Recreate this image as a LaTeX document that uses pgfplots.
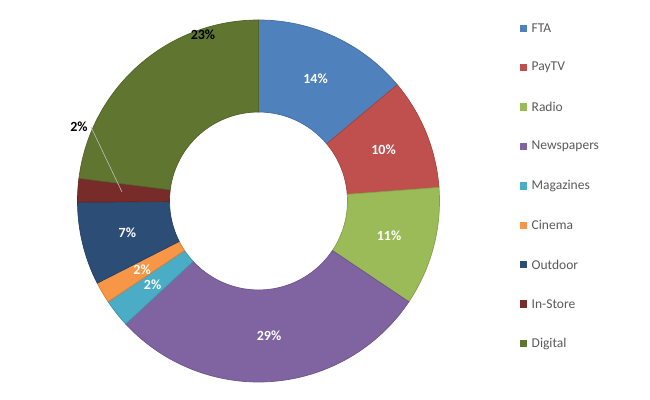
\documentclass[border=0pt]{standalone}
\usepackage{pgfplots}
\pgfplotsset{compat=1.18}
\usepackage{pgfplotstable}
\usepackage{fontspec}
\setmainfont{Carlito}
\usetikzlibrary{calc}
\definecolor{cFTA}{HTML}{4F81BD}
\definecolor{cPay}{HTML}{C0504D}
\definecolor{cRad}{HTML}{9BBB59}
\definecolor{cNews}{HTML}{8064A2}
\definecolor{cMag}{HTML}{4BACC6}
\definecolor{cCin}{HTML}{F79646}
\definecolor{cOut}{HTML}{2C4D75}
\definecolor{cIn}{HTML}{772C2A}
\definecolor{cDig}{HTML}{5F7530}
\definecolor{legtext}{HTML}{595959}
\pgfplotstableread[col sep=comma]{
name,value,lab,color,inside
FTA,13.9,14,cFTA,1
PayTV,9.9,10,cPay,1
Radio,10.6,11,cRad,1
Newspapers,28.7,29,cNews,1
Magazines,2.5,2,cMag,1
Cinema,1.9,2,cCin,1
Outdoor,7.4,7,cOut,1
In-Store,2.1,2,cIn,0
Digital,23.0,23,cDig,0
}\data
\tikzset{
  lbl/.style={font=\fontsize{14bp}{16bp}\selectfont\bfseries, text=white, inner sep=0pt},
  lblb/.style={font=\fontsize{14bp}{16bp}\selectfont\bfseries, text=black, inner sep=0pt},
  leg/.style={font=\fontsize{13.5bp}{15bp}\selectfont, text=legtext, anchor=west, inner sep=0pt}
}
\begin{document}
\begin{tikzpicture}
\begin{axis}[scale only axis, width=650bp, height=400bp,
  xmin=0, xmax=650, ymin=0, ymax=400, hide axis, clip=false]
\coordinate (C) at (axis cs:258.5,199);
\pgfplotstablegetrowsof{\data}
\pgfmathtruncatemacro\N{\pgfplotsretval-1}
\def\cum{0}
\pgfplotsforeachungrouped \i in {0,...,\N}{%
  \pgfplotstablegetelem{\i}{value}\of\data \let\v\pgfplotsretval
  \pgfplotstablegetelem{\i}{color}\of\data \let\c\pgfplotsretval
  \pgfplotstablegetelem{\i}{lab}\of\data \let\lab\pgfplotsretval
  \pgfplotstablegetelem{\i}{name}\of\data \let\nm\pgfplotsretval
  \pgfplotstablegetelem{\i}{inside}\of\data \let\ins\pgfplotsretval
  \pgfmathsetmacro\aA{90-3.6*\cum}
  \pgfmathsetmacro\aB{90-3.6*(\cum+\v)}
  \pgfmathsetmacro\aM{(\aA+\aB)/2}
  \pgfmathsetmacro\ly{371.7-39.4*\i}
  \edef\temp{\noexpand\filldraw[fill=\c, draw=\c!85!black, line width=0.7bp]
    ($(C)+(\aA:181bp)$) arc[start angle=\aA, end angle=\aB, radius=181bp]
    -- ($(C)+(\aB:89bp)$) arc[start angle=\aB, end angle=\aA, radius=89bp] -- cycle;
    \noexpand\fill[\c] ($(axis cs:523.7,\ly)+(-3.7bp,-3.7bp)$) rectangle ++(7.4bp,7.4bp);
    \noexpand\node[leg] at (axis cs:531.5,\ly) {\nm};}
  \temp
  \ifnum\ins=1
    \edef\temp{\noexpand\node[lbl] at ($(C)+(\aM:135bp)$) {\lab\noexpand\%};}
    \temp
  \fi
  \pgfmathsetmacro\cum{\cum+\v}
}
% labels moved outside by the original chart
\draw[draw=black!25, line width=0.6bp] (axis cs:91,273) -- (axis cs:122,208);
\node[lblb] at (axis cs:79,273) {2\%};
\node[lblb] at (axis cs:203,365) {23\%};
\end{axis}
\pgfresetboundingbox
\path (0,0) rectangle (650bp,400bp);
\end{tikzpicture}
\end{document}
